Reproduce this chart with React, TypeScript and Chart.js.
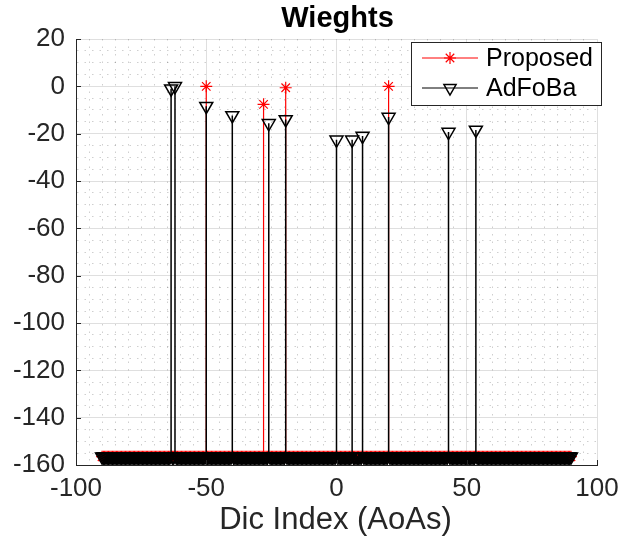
import React, { useEffect, useRef } from "react";
import { Chart, registerables } from "chart.js";

Chart.register(...registerables);

// Dictionary grid (AoA indices)
const dicStart = -90;
const dicEnd = 90;
const dicStep = 0.5;
// Floor level (dB) of the non-selected atoms
const floorDb = -156.5;

// Proposed: selected atoms
const proposedPeakIdx = [-50, -28, -19.5, 20];
const proposedPeakDb = [0, -7.6, -0.6, 0];

// AdFoBa: selected atoms
const adfobaPeakIdx = [-63.5, -62, -50, -40, -26, -19.5, 0, 6, 10, 20, 43, 53.5];
const adfobaPeakDb = [-1, 0, -8.4, -12.3, -15.6, -14, -22.6, -22.6, -21, -13, -19.3, -18.4];

// Axis ticks
const xMin = -100;
const xMax = 100;
const yMin = -160;
const yMax = 20;
const xMajor = [-100, -50, 0, 50, 100];
const yMajor = [-160, -140, -120, -100, -80, -60, -40, -20, 0, 20];

const titleText = "Wieghts";
const xLabelText = "Dic Index (AoAs)";
const seriesNames = ["Proposed", "AdFoBa"];

const FONT = "'Liberation Sans', Arial, Helvetica, sans-serif";
const AX = "#262626";

function buildSeries(peakIdx: number[], peakDb: number[]) {
  const pts: { x: number; y: number }[] = [];
  const n = Math.round((dicEnd - dicStart) / dicStep);
  for (let k = 0; k <= n; k++) {
    const x = dicStart + k * dicStep;
    const j = peakIdx.findIndex((p) => Math.abs(p - x) < 1e-9);
    pts.push({ x, y: j >= 0 ? peakDb[j] : floorDb });
  }
  return pts;
}

const isMajor = (v: number, list: number[]) => list.some((m) => Math.abs(m - v) < 1e-9);

const stemPlugin = {
  id: "stems",
  beforeDatasetDraw(chart: any, args: any) {
    const ds = chart.data.datasets[args.index];
    const { ctx, chartArea } = chart;
    const xs = chart.scales.x;
    const ys = chart.scales.y;
    ctx.save();
    ctx.beginPath();
    ctx.rect(chartArea.left, chartArea.top, chartArea.right - chartArea.left, chartArea.bottom - chartArea.top);
    ctx.clip();
    ctx.strokeStyle = ds.borderColor;
    ctx.lineWidth = ds.stemWidth || 1;
    ctx.beginPath();
    for (const p of ds.data) {
      if (p.y > floorDb) {
        const px = xs.getPixelForValue(p.x);
        ctx.moveTo(px, ys.getPixelForValue(floorDb));
        ctx.lineTo(px, ys.getPixelForValue(p.y));
      }
    }
    ctx.stroke();
    ctx.restore();
  },
};

function drawStar(ctx: CanvasRenderingContext2D, x: number, y: number, r: number) {
  ctx.beginPath();
  for (let i = 0; i < 4; i++) {
    const a = (i * Math.PI) / 4;
    ctx.moveTo(x - Math.cos(a) * r, y - Math.sin(a) * r);
    ctx.lineTo(x + Math.cos(a) * r, y + Math.sin(a) * r);
  }
  ctx.stroke();
}

function drawTriDown(ctx: CanvasRenderingContext2D, x: number, y: number, r: number) {
  ctx.beginPath();
  for (let i = 0; i < 3; i++) {
    const a = Math.PI + (i * 2 * Math.PI) / 3;
    const px = x + Math.sin(a) * r;
    const py = y - Math.cos(a) * r;
    if (i === 0) ctx.moveTo(px, py);
    else ctx.lineTo(px, py);
  }
  ctx.closePath();
  ctx.stroke();
}

const decorPlugin = {
  id: "decor",
  afterDraw(chart: any) {
    const { ctx, chartArea } = chart;
    const xs = chart.scales.x;
    const ys = chart.scales.y;
    ctx.save();
    // inward tick marks
    ctx.strokeStyle = AX;
    ctx.lineWidth = 1;
    ctx.beginPath();
    for (const v of yMajor) {
      const py = Math.round(ys.getPixelForValue(v)) + 0.5;
      ctx.moveTo(chartArea.left, py);
      ctx.lineTo(chartArea.left + 5, py);
    }
    for (const v of xMajor) {
      const px = Math.round(xs.getPixelForValue(v)) + 0.5;
      ctx.moveTo(px, chartArea.bottom);
      ctx.lineTo(px, chartArea.bottom - 5);
    }
    ctx.stroke();

    // title
    const cx = (chartArea.left + chartArea.right) / 2;
    ctx.fillStyle = "#000";
    ctx.textAlign = "center";
    ctx.textBaseline = "alphabetic";
    ctx.font = `bold 29px ${FONT}`;
    ctx.fillText(titleText, cx + 1, 27);
    // x label
    ctx.fillStyle = AX;
    ctx.font = `31px ${FONT}`;
    ctx.fillText(xLabelText, cx - 1, 529);

    // legend
    const bx = 411, by = 42, bw = 190, bh = 63;
    ctx.fillStyle = "#fff";
    ctx.fillRect(bx, by, bw, bh);
    ctx.strokeStyle = AX;
    ctx.lineWidth = 1;
    ctx.strokeRect(bx + 0.5, by + 0.5, bw, bh);
    const rows = [58, 88];
    // Proposed
    ctx.strokeStyle = "#ff0000";
    ctx.lineWidth = 1;
    ctx.beginPath();
    ctx.moveTo(422, rows[0]);
    ctx.lineTo(478, rows[0]);
    ctx.stroke();
    ctx.lineWidth = 1.2;
    drawStar(ctx, 450, rows[0], 6);
    // AdFoBa
    ctx.strokeStyle = "#000";
    ctx.lineWidth = 1;
    ctx.beginPath();
    ctx.moveTo(422, rows[1]);
    ctx.lineTo(478, rows[1]);
    ctx.stroke();
    ctx.lineWidth = 1.5;
    drawTriDown(ctx, 450, rows[1], 7);
    ctx.fillStyle = "#000";
    ctx.textAlign = "left";
    ctx.textBaseline = "middle";
    ctx.font = `25px ${FONT}`;
    ctx.fillText(seriesNames[0], 486, rows[0] + 1);
    ctx.fillText(seriesNames[1], 486, rows[1] + 1);
    ctx.restore();
  },
};

export default function App() {
  const ref = useRef<HTMLCanvasElement | null>(null);
  useEffect(() => {
    if (!ref.current) return;
    const proposed = buildSeries(proposedPeakIdx, proposedPeakDb);
    const adfoba = buildSeries(adfobaPeakIdx, adfobaPeakDb);
    const gridColor = (c: any) => {
      const v = c.tick ? c.tick.value : 0;
      const list = c.scale && c.scale.axis === "x" ? xMajor : yMajor;
      return isMajor(v, list) ? "rgba(38,38,38,0.15)" : "rgba(38,38,38,0.22)";
    };
    const gridDash = (c: any) => {
      if (!c.tick) return [];
      const list = c.scale && c.scale.axis === "x" ? xMajor : yMajor;
      return isMajor(c.tick.value, list) ? [] : [1.5, 6];
    };
    const chart = new Chart(ref.current, {
      type: "scatter",
      data: {
        datasets: [
          {
            label: seriesNames[1],
            data: adfoba,
            borderColor: "#000000",
            backgroundColor: "rgba(0,0,0,0)",
            pointStyle: "triangle",
            rotation: 180,
            pointRadius: 7.5,
            borderWidth: 1.5,
            showLine: false,
            stemWidth: 1.5,
          } as any,
          {
            label: seriesNames[0],
            data: proposed,
            borderColor: "#ff0000",
            backgroundColor: "#ff0000",
            pointStyle: "star",
            pointRadius: 6,
            borderWidth: 1.2,
            showLine: false,
            stemWidth: 1.2,
          } as any,
        ],
      },
      options: {
        animation: false,
        responsive: false,
        events: [],
        layout: { padding: { top: 39, right: 23, left: 0, bottom: 0 } },
        plugins: { legend: { display: false }, tooltip: { enabled: false }, title: { display: false } },
        scales: {
          x: {
            type: "linear",
            min: xMin,
            max: xMax,
            afterFit: (s: any) => {
              s.height = 72;
              s.paddingLeft = 0;
              s.paddingRight = 0;
            },
            ticks: {
              stepSize: 5,
              autoSkip: false,
              maxRotation: 0,
              minRotation: 0,
              padding: 8,
              color: AX,
              font: { family: FONT, size: 26 },
              callback: (v: any) => (isMajor(Number(v), xMajor) ? String(v) : ""),
            },
            grid: { color: gridColor, drawTicks: false, lineWidth: 1 },
            border: { display: true, color: AX, width: 1, dash: gridDash },
          },
          y: {
            type: "linear",
            min: yMin,
            max: yMax,
            afterFit: (s: any) => {
              s.width = 76;
              s.paddingTop = 0;
              s.paddingBottom = 0;
            },
            ticks: {
              stepSize: 5,
              autoSkip: false,
              padding: 11,
              color: AX,
              font: { family: FONT, size: 26 },
              callback: (v: any) => (isMajor(Number(v), yMajor) ? String(v) : ""),
            },
            grid: { color: gridColor, drawTicks: false, lineWidth: 1 },
            border: { display: true, color: AX, width: 1, dash: gridDash },
          },
        },
      },
      plugins: [stemPlugin, decorPlugin],
    } as any);
    return () => chart.destroy();
  }, []);
  return (
    <div style={{ position: "absolute", left: 0, top: 0, width: 620, height: 537, background: "#fff" }}>
      <canvas ref={ref} width={620} height={537} style={{ display: "block" }} />
    </div>
  );
}
